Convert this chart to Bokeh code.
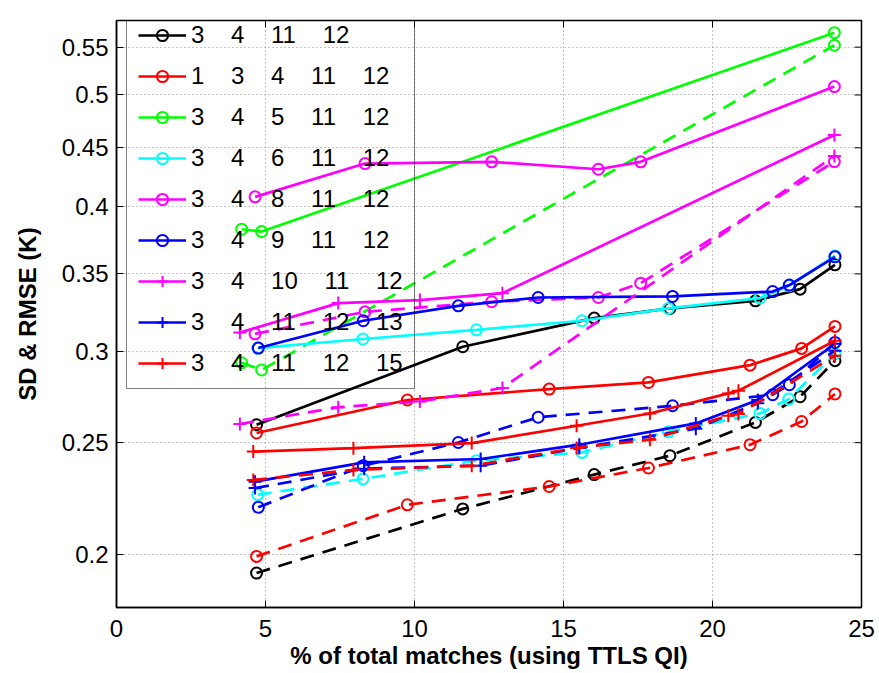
import math
from bokeh.plotting import figure
from bokeh.models import Range1d, FixedTicker, Legend, LegendItem
from bokeh.embed import file_html
from bokeh.resources import INLINE

# ---------------- data ----------------
x_ticks = [0, 5, 10, 15, 20, 25]
x_tick_labels = ["0", "5", "10", "15", "20", "25"]
y_ticks = [0.2, 0.25, 0.3, 0.35, 0.4, 0.45, 0.5, 0.55]
y_tick_labels = ["0.2", "0.25", "0.3", "0.35", "0.4", "0.45", "0.5", "0.55"]
x_limits = (0, 25)
y_limits = (0.18, 0.58)

legend_labels = [
    "3 4 11 12",
    "1 3 4 11 12",
    "3 4 5 11 12",
    "3 4 6 11 12",
    "3 4 8 11 12",
    "3 4 9 11 12",
    "3 4 10 11 12",
    "3 4 11 12 13",
    "3 4 11 12 15",
]

black_x = [4.70, 11.62, 16.03, 18.57, 21.44, 22.94, 24.11]
black_rmse = [0.2591, 0.3027, 0.3205, 0.3267, 0.3317, 0.3395, 0.3564]
black_sd = [0.1928, 0.2191, 0.2346, 0.2436, 0.2603, 0.2740, 0.2944]

red_o_x = [4.70, 9.76, 14.52, 17.85, 21.26, 22.99, 24.11]
red_o_rmse = [0.2549, 0.2722, 0.2782, 0.2819, 0.2918, 0.3017, 0.3152]
red_o_sd = [0.1993, 0.2209, 0.2291, 0.2377, 0.2490, 0.2608, 0.2755]

green_x = [4.20, 4.87, 24.09]
green_rmse = [0.3826, 0.3808, 0.5661]
green_sd = [0.2932, 0.2890, 0.5521]

cyan_x = [4.74, 8.27, 12.08, 15.62, 18.52, 21.59, 22.56, 24.11]
cyan_rmse = [0.3019, 0.3074, 0.3131, 0.3188, 0.3267, 0.3335, 0.3418, 0.3628]
cyan_sd = [0.2254, 0.2326, 0.2412, 0.2452, 0.2555, 0.2650, 0.2727, 0.2985]

magenta_o_x = [4.65, 8.34, 12.59, 16.17, 17.59, 24.09]
magenta_o_rmse = [0.4081, 0.4361, 0.4376, 0.4312, 0.4376, 0.5084]
magenta_o_sd = [0.3106, 0.3245, 0.3311, 0.3339, 0.3436, 0.4378]

blue_o_x = [4.76, 8.28, 11.47, 14.15, 18.66, 22.02, 22.58, 24.11]
blue_o_rmse = [0.3019, 0.3188, 0.3284, 0.3339, 0.3346, 0.3379, 0.3423, 0.3621]
blue_o_sd = [0.2198, 0.2388, 0.2501, 0.2630, 0.2691, 0.2751, 0.2806, 0.3053]

magenta_p_x = [4.14, 7.44, 10.18, 12.95, 24.09]
magenta_p_rmse = [0.3114, 0.3302, 0.3322, 0.3368, 0.4617]
magenta_p_sd = [0.2595, 0.2683, 0.2714, 0.2788, 0.4428]

blue_p_x = [4.65, 8.31, 12.22, 15.53, 19.44, 21.52, 24.11]
blue_p_rmse = [0.2313, 0.2404, 0.2420, 0.2490, 0.2598, 0.2722, 0.3045]
blue_p_sd = [0.2284, 0.2374, 0.2388, 0.2474, 0.2571, 0.2705, 0.3003]

red_p_x = [4.59, 7.95, 11.92, 15.44, 17.90, 20.53, 20.87, 24.11]
red_p_rmse = [0.2456, 0.2473, 0.2498, 0.2586, 0.2650, 0.2758, 0.2773, 0.3063]
red_p_sd = [0.2321, 0.2368, 0.2388, 0.2474, 0.2515, 0.2638, 0.2647, 0.2973]

series = [
    ("#000000", "circle", black_x, black_rmse, black_sd),
    ("#ff0000", "circle", red_o_x, red_o_rmse, red_o_sd),
    ("#00ff00", "circle", green_x, green_rmse, green_sd),
    ("#00ffff", "circle", cyan_x, cyan_rmse, cyan_sd),
    ("#ff00ff", "circle", magenta_o_x, magenta_o_rmse, magenta_o_sd),
    ("#0000ff", "circle", blue_o_x, blue_o_rmse, blue_o_sd),
    ("#ff00ff", "cross", magenta_p_x, magenta_p_rmse, magenta_p_sd),
    ("#0000ff", "cross", blue_p_x, blue_p_rmse, blue_p_sd),
    ("#ff0000", "cross", red_p_x, red_p_rmse, red_p_sd),
]

# ---------------- figure ----------------
FONT = "Liberation Sans"
p = figure(width=879, height=673,
           x_range=Range1d(*x_limits), y_range=Range1d(*y_limits),
           y_axis_type="log", output_backend="svg", toolbar_location=None,
           min_border_left=116, min_border_right=18,
           min_border_top=20, min_border_bottom=66)
p.background_fill_color = "white"
p.border_fill_color = "white"
p.outline_line_color = "black"
p.outline_line_width = 1.5

for ax in (p.xaxis[0], p.yaxis[0]):
    ax.axis_line_color = "black"
    ax.axis_line_width = 1.5
    ax.major_tick_in = 7
    ax.major_tick_out = 0
    ax.minor_tick_in = 0
    ax.minor_tick_out = 0
    ax.major_tick_line_color = "black"
    ax.major_tick_line_width = 1
    ax.major_label_text_font = FONT
    ax.major_label_text_font_size = "24px"
    ax.major_label_text_color = "black"
    ax.axis_label_text_font = FONT
    ax.axis_label_text_font_style = "bold"
    ax.axis_label_text_font_size = "24px"
    ax.axis_label_text_color = "black"

p.xaxis.ticker = FixedTicker(ticks=x_ticks)
p.yaxis.ticker = FixedTicker(ticks=y_ticks)
p.xaxis.major_label_overrides = {t: s for t, s in zip(x_ticks, x_tick_labels)}
p.yaxis.major_label_overrides = {t: s for t, s in zip(y_ticks, y_tick_labels)}
p.xaxis.axis_label = "% of total matches (using TTLS QI)"
p.yaxis.axis_label = "SD & RMSE (K)"
p.xaxis.major_label_standoff = 12
p.xaxis.axis_label_standoff = 2
p.yaxis.major_label_standoff = 8
p.yaxis.axis_label_standoff = 18

for g in (p.xgrid[0], p.ygrid[0]):
    g.grid_line_color = "#8a8a8a"
    g.grid_line_dash = "1 3"
    g.grid_line_width = 1
p.xgrid.ticker = FixedTicker(ticks=x_ticks)
p.ygrid.ticker = FixedTicker(ticks=y_ticks)

# inward tick marks on the right and top edges of the box (clipped to frame)
p.scatter([x_limits[1]] * len(y_ticks), y_ticks, marker="dash", size=14,
          line_color="black", line_width=1)
p.scatter(x_ticks, [y_limits[1]] * len(x_ticks), marker="dash", size=14,
          angle=math.pi / 2, line_color="black", line_width=1)

items = []
for (color, marker, xs, rmse, sd), lab in zip(series, legend_labels):
    msize = 11 if marker == "circle" else 13
    l1 = p.line(xs, rmse, line_color=color, line_width=2.7)
    m1 = p.scatter(xs, rmse, marker=marker, size=msize, line_color=color,
                   fill_color=None, line_width=2)
    p.line(xs, sd, line_color=color, line_width=2.7, line_dash="14 9")
    p.scatter(xs, sd, marker=marker, size=msize, line_color=color,
              fill_color=None, line_width=2)
    text = ("\u00a0" * 4).join(lab.split(" "))
    items.append(LegendItem(label=text, renderers=[l1, m1]))

legend = Legend(items=items, location=(10, 218))
legend.border_line_color = "black"
legend.border_line_width = 1
legend.background_fill_alpha = 0
legend.padding = 11
legend.spacing = 13
legend.margin = 0
legend.glyph_width = 48
legend.glyph_height = 28
legend.label_height = 28
legend.label_standoff = 5
legend.label_text_font = FONT
legend.label_text_font_size = "24px"
legend.label_text_color = "black"
p.add_layout(legend)

open("out.html", "w").write(file_html(p, INLINE))
